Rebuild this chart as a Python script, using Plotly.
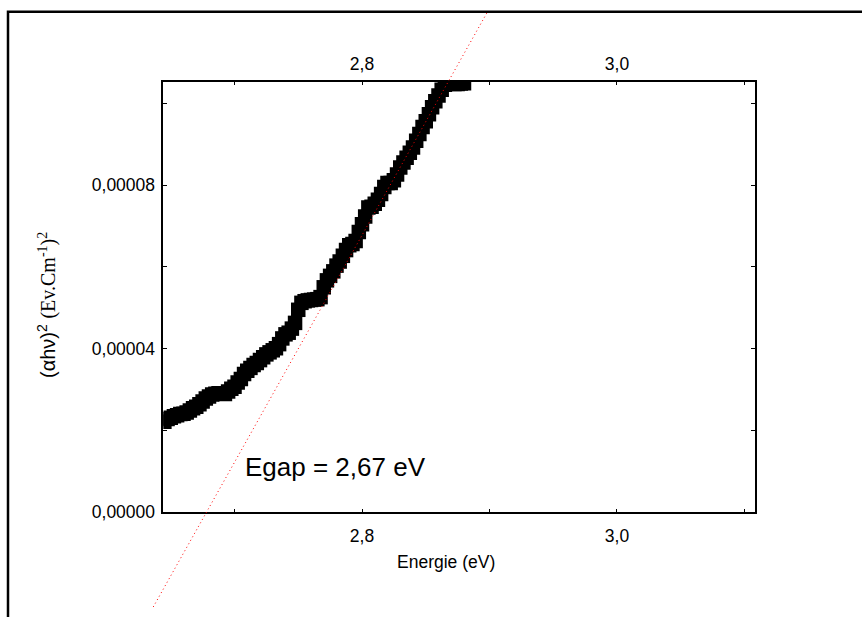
import plotly.graph_objects as go

# ---------------- data ----------------
energie = [2.6450, 2.6475, 2.6500, 2.6525, 2.6550, 2.6575, 2.6600, 2.6625, 2.6650, 2.6675,
           2.6700, 2.6725, 2.6750, 2.6775, 2.6800, 2.6825, 2.6850, 2.6875, 2.6900, 2.6925,
           2.6950, 2.6975, 2.7000, 2.7025, 2.7050, 2.7075, 2.7100, 2.7125, 2.7150, 2.7175,
           2.7200, 2.7225, 2.7250, 2.7275, 2.7300, 2.7325, 2.7350, 2.7375, 2.7400, 2.7425,
           2.7450, 2.7475, 2.7500, 2.7525, 2.7550, 2.7575, 2.7600, 2.7625, 2.7650, 2.7675,
           2.7700, 2.7725, 2.7750, 2.7775, 2.7800, 2.7825, 2.7850, 2.7875, 2.7900, 2.7925,
           2.7950, 2.7975, 2.8000, 2.8025, 2.8050, 2.8075, 2.8100, 2.8125, 2.8150, 2.8175,
           2.8200, 2.8225, 2.8250, 2.8275, 2.8300, 2.8325, 2.8350, 2.8375, 2.8400, 2.8425,
           2.8450, 2.8475, 2.8500, 2.8525, 2.8550, 2.8575, 2.8600, 2.8625, 2.8650, 2.8675,
           2.8700, 2.8725, 2.8750, 2.8775, 2.8800]
alpha_hv2 = [2.21e-5, 2.28e-5, 2.31e-5, 2.35e-5, 2.37e-5, 2.40e-5, 2.41e-5, 2.44e-5, 2.49e-5, 2.54e-5,
             2.58e-5, 2.64e-5, 2.71e-5, 2.78e-5, 2.83e-5, 2.88e-5, 2.90e-5, 2.91e-5, 2.90e-5, 2.89e-5,
             2.95e-5, 3.02e-5, 3.07e-5, 3.17e-5, 3.26e-5, 3.38e-5, 3.46e-5, 3.53e-5, 3.60e-5, 3.65e-5,
             3.72e-5, 3.79e-5, 3.86e-5, 3.91e-5, 3.96e-5, 4.01e-5, 4.11e-5, 4.25e-5, 4.35e-5, 4.39e-5,
             4.49e-5, 4.63e-5, 4.95e-5, 5.12e-5, 5.16e-5, 5.18e-5, 5.19e-5, 5.20e-5, 5.21e-5, 5.26e-5,
             5.50e-5, 5.67e-5, 5.78e-5, 5.89e-5, 6.03e-5, 6.13e-5, 6.27e-5, 6.41e-5, 6.53e-5, 6.56e-5,
             6.63e-5, 6.85e-5, 7.04e-5, 7.23e-5, 7.45e-5, 7.47e-5, 7.54e-5, 7.64e-5, 7.78e-5, 7.95e-5,
             8.05e-5, 8.05e-5, 8.12e-5, 8.26e-5, 8.43e-5, 8.55e-5, 8.67e-5, 8.79e-5, 8.92e-5, 9.08e-5,
             9.25e-5, 9.42e-5, 9.56e-5, 9.73e-5, 9.90e-5, 1.005e-4, 1.019e-4, 1.033e-4, 1.045e-4, 1.048e-4,
             1.048e-4, 1.047e-4, 1.047e-4, 1.048e-4, 1.049e-4]

# linear fit (Tauc extrapolation)
egap = 2.678
fit_slope = 5.551e-4

x_tick_vals = [2.8, 3.0]
y_tick_vals = [0.0, 4e-5, 8e-5]
annot_text = "Egap = 2,67 eV"
x_title = "Energie (eV)"
y_title = ("(αhν)<sup>2</sup> <span style='font-family:Liberation Serif'>"
           "(Ev.Cm<sup>-1</sup>)<sup>2</sup></span>")

# ---------------- layout geometry ----------------
W, H = 862, 617
x_range = [2.64416, 3.10824]
y_range = [0.0, 1.0528e-4]
x_dom = [163.3 / W, 755.0 / W]
y_dom = [1 - 520.7 / H, 1 - 83.0 / H]
frame_left = 8.0 / W
frame_top = 1 - 12.0 / H

# full-page helper axes (for the extrapolated line, not clipped to plot box)
xs = (x_range[1] - x_range[0]) / (x_dom[1] - x_dom[0])
ys = (y_range[1] - y_range[0]) / (y_dom[1] - y_dom[0])
x3_range = [x_range[0] - x_dom[0] * xs, x_range[0] + (1 - x_dom[0]) * xs]
y3_dom = [0, frame_top]
y3_range = [y_range[0] - y_dom[0] * ys, y_range[0] + (frame_top - y_dom[0]) * ys]
fit_y = [y3_range[0], y3_range[1]]
fit_x = [egap + v / fit_slope for v in fit_y]

FONT = "Liberation Sans, Arial, sans-serif"
TICK_SIZE = 17.5

fig = go.Figure()
fig.add_trace(go.Scatter(
    x=energie, y=alpha_hv2, mode="markers",
    marker=dict(symbol="square", size=14.5, color="black", line=dict(width=0)),
    xaxis="x", yaxis="y", showlegend=False, hoverinfo="x+y"))
fig.add_trace(go.Scatter(
    x=energie, y=alpha_hv2, mode="markers",
    marker=dict(opacity=0, size=1), xaxis="x2", yaxis="y",
    showlegend=False, hoverinfo="skip"))
fig.add_trace(go.Scatter(
    x=fit_x, y=fit_y, mode="lines",
    line=dict(color="red", width=1, dash="1px,3px"),
    xaxis="x3", yaxis="y3", showlegend=False, hoverinfo="skip"))

axis_common = dict(showline=True, linecolor="black", linewidth=1.5, mirror="ticks",
                   ticks="inside", ticklen=4, tickwidth=1, tickcolor="black",
                   showgrid=False, zeroline=False,
                   tickfont=dict(family=FONT, size=TICK_SIZE, color="black"))

fig.update_layout(
    width=W, height=H,
    margin=dict(l=0, r=0, t=0, b=0),
    paper_bgcolor="white", plot_bgcolor="rgba(0,0,0,0)",
    separators=", ",
    xaxis=dict(domain=x_dom, range=x_range, anchor="y",
               tickmode="array", tickvals=x_tick_vals, tickformat=".1f",
               ticklabelstandoff=7,
               minor=dict(dtick=0.1, tick0=2.7, ticks="inside", ticklen=4,
                          tickcolor="black", showgrid=False),
               **axis_common),
    xaxis2=dict(overlaying="x", matches="x", side="top", anchor="y",
                tickmode="array", tickvals=x_tick_vals, tickformat=".1f",
                ticklabelstandoff=7,
                showline=False, ticks="", showgrid=False, zeroline=False,
                tickfont=dict(family=FONT, size=TICK_SIZE, color="black")),
    yaxis=dict(domain=y_dom, range=y_range, anchor="x",
               tickmode="array", tickvals=y_tick_vals, tickformat=".5f",
               ticklabelstandoff=3,
               minor=dict(dtick=2e-5, tick0=0, ticks="inside", ticklen=4,
                          tickcolor="black", showgrid=False),
               **axis_common),
    xaxis3=dict(domain=[0, 1], range=x3_range, anchor="y3", visible=False),
    yaxis3=dict(domain=y3_dom, range=y3_range, anchor="x3", visible=False),
    shapes=[dict(type="rect", xref="paper", yref="paper",
                 x0=frame_left, x1=1.05, y0=-0.05, y1=frame_top,
                 line=dict(color="black", width=2.5), fillcolor="rgba(0,0,0,0)")],
    annotations=[
        dict(text=annot_text, xref="paper", yref="paper", x=243.0 / W, y=1 - 475.0 / H,
             xanchor="left", yanchor="middle", showarrow=False,
             font=dict(family=FONT, size=26, color="black")),
        dict(text=x_title, xref="paper", yref="paper", x=446.0 / W, y=1 - 571.0 / H,
             xanchor="center", yanchor="middle", showarrow=False,
             font=dict(family=FONT, size=17.5, color="black")),
        dict(text=y_title, xref="paper", yref="paper", x=47.0 / W, y=1 - 310.0 / H,
             xanchor="center", yanchor="middle", showarrow=False, textangle=-90,
             font=dict(family=FONT, size=20, color="black")),
    ],
)

fig.write_html("out.html")
